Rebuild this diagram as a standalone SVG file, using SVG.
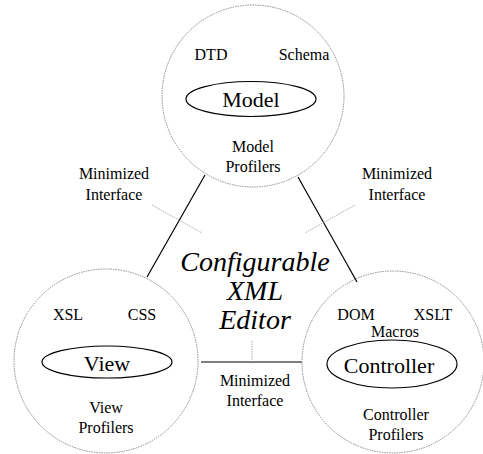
<svg xmlns="http://www.w3.org/2000/svg" width="483" height="454" viewBox="0 0 483 454">
<style>
.bound{fill:none;stroke:#8a8a8a;stroke-width:1;stroke-dasharray:1.5 1}
.core{fill:none;stroke:#000;stroke-width:1.2}
.conn{stroke:#000;stroke-width:1.2;fill:none}
.lead{stroke:#999;stroke-width:0.8;stroke-dasharray:1.5 1;fill:none}
text{fill:#000;text-anchor:middle;font-family:Liberation Serif,Tinos,DejaVu Serif,serif}
.s{font-size:16px}
.m{font-size:22px}
.big{font-size:28px;font-style:italic}
</style>
<rect width="483" height="454" fill="#fff"/>
<g id="connectors">
<line class="conn" x1="205" y1="175" x2="147" y2="277"/>
<line class="conn" x1="298" y1="177" x2="357" y2="282"/>
<line class="conn" x1="201" y1="362" x2="302" y2="362"/>
<line class="lead" x1="152" y1="205" x2="202" y2="233"/>
<line class="lead" x1="355" y1="205" x2="305" y2="233"/>
<line class="lead" x1="252" y1="341" x2="252" y2="364"/>
</g>
<g id="model">
<circle class="bound" cx="253" cy="96" r="91"/>
<text class="s" x="211" y="60">DTD</text>
<text class="s" x="304" y="60">Schema</text>
<ellipse class="core" cx="251" cy="99" rx="65" ry="17.5"/>
<text class="m" x="251" y="107">Model</text>
<text class="s" x="253" y="152">Model</text>
<text class="s" x="253" y="172">Profilers</text>
</g>
<g id="view">
<circle class="bound" cx="106" cy="361" r="92"/>
<text class="s" x="68" y="320">XSL</text>
<text class="s" x="142" y="320">CSS</text>
<ellipse class="core" cx="107" cy="362" rx="65" ry="16"/>
<text class="m" x="107" y="371">View</text>
<text class="s" x="106" y="413">View</text>
<text class="s" x="106" y="433">Profilers</text>
</g>
<g id="controller">
<circle class="bound" cx="393" cy="362" r="91"/>
<text class="s" x="356" y="320">DOM</text>
<text class="s" x="433" y="320">XSLT</text>
<text class="s" x="395" y="337">Macros</text>
<ellipse class="core" cx="392" cy="364" rx="65" ry="24"/>
<text class="m" x="389" y="373">Controller</text>
<text class="s" x="396" y="420">Controller</text>
<text class="s" x="396" y="440">Profilers</text>
</g>
<g id="labels">
<text class="s" x="114" y="179">Minimized</text>
<text class="s" x="114" y="200">Interface</text>
<text class="s" x="397" y="179">Minimized</text>
<text class="s" x="397" y="200">Interface</text>
<text class="s" x="255" y="386">Minimized</text>
<text class="s" x="255" y="406">Interface</text>
</g>
<g id="editor">
<text class="big" x="255" y="271">Configurable</text>
<text class="big" x="255" y="300">XML</text>
<text class="big" x="255" y="329">Editor</text>
</g>
</svg>
